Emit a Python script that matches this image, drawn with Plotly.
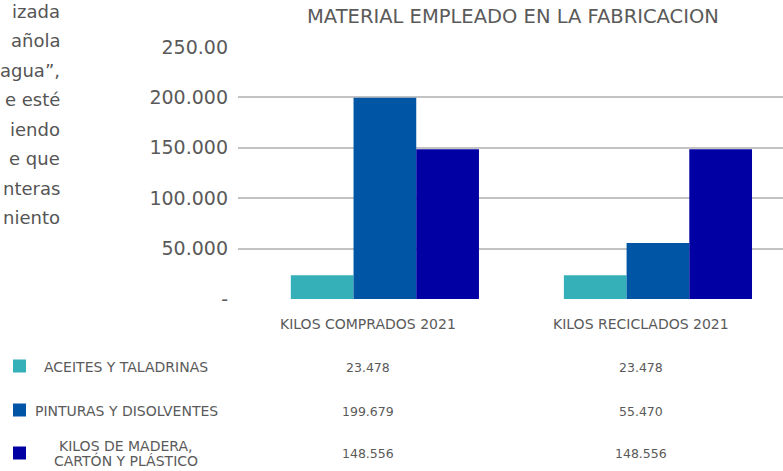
import plotly.graph_objects as go

# ---- data ----
categories = ["KILOS COMPRADOS 2021", "KILOS RECICLADOS 2021"]
series_names = ["ACEITES Y TALADRINAS", "PINTURAS Y DISOLVENTES", "KILOS DE MADERA,<br>CARTÓN Y PLÁSTICO"]
aceites = [23478, 23478]
pinturas = [199679, 55470]
madera = [148556, 148556]
value_labels = [["23.478", "23.478"], ["199.679", "55.470"], ["148.556", "148.556"]]
tick_vals = [0, 50000, 100000, 150000, 200000, 250000]
tick_text = ["-", "50.000", "100.000", "150.000", "200.000", "250.00"]
title_text = "MATERIAL EMPLEADO EN LA FABRICACION"
paragraph_lines = ["izada", "añola", "agua”,", "e esté", "iendo", "e que", "nteras", "niento"]

colors = ["#35AFB8", "#0055A5", "#0000A3"]
series_values = [aceites, pinturas, madera]

W, H = 783, 471
L, R, T, B = 238, 783, 47, 299  # plot area in pixels
PW, PH = R - L, B - T


def px(x):
    return (x - L) / PW


def py(y):
    return (B - y) / PH


FONT = "DejaVu Sans"
GRAY = "#5a5a5a"

fig = go.Figure()
for name, vals, col in zip(series_names, series_values, colors):
    fig.add_trace(go.Bar(x=categories, y=vals, name=name, marker=dict(color=col, line=dict(width=0)),
                         showlegend=False, hoverinfo="skip"))

fig.update_layout(
    width=W, height=H,
    margin=dict(l=L, r=W - R, t=T, b=H - B, pad=0),
    paper_bgcolor="white", plot_bgcolor="white",
    barmode="group", bargap=0.311, bargroupgap=0,
    font=dict(family=FONT, color=GRAY),
    xaxis=dict(range=[-0.538, 1.458], showticklabels=False, showgrid=False, zeroline=False,
               showline=False, ticks=""),
    yaxis=dict(range=[0, 250000], tickvals=tick_vals, ticktext=tick_text, showgrid=True,
               gridcolor="#c3c3c3", gridwidth=1.5, zeroline=False, showline=False,
               tickfont=dict(size=19, color=GRAY, family=FONT), ticklabelstandoff=9),
)

ann = []
# title
ann.append(dict(text=title_text, x=px(513), y=py(17), xref="paper", yref="paper", showarrow=False,
                xanchor="center", yanchor="middle", font=dict(size=19.5, color=GRAY, family=FONT)))
# paragraph fragment at left
for i, line in enumerate(paragraph_lines):
    ann.append(dict(text=line, x=px(62), y=py(11 + 29.5 * i), xref="paper", yref="paper", showarrow=False,
                    xanchor="right", yanchor="middle", font=dict(size=18, color="#555555", family=FONT)))
# data table: header row (category labels)
table_shift = -0.062
for j, cat in enumerate(categories):
    ann.append(dict(text=cat, x=j + table_shift, y=py(324), xref="x", yref="paper", showarrow=False,
                    xanchor="center", yanchor="middle", font=dict(size=14, color=GRAY, family=FONT)))
row_y = [367, 411, 453]
shapes = []
for r, (name, col) in enumerate(zip(series_names, colors)):
    parts = name.split("<br>")
    for k, part in enumerate(parts):
        yy = row_y[r] + (k - (len(parts) - 1) / 2) * 15
        ann.append(dict(text=part, x=px(126), y=py(yy), xref="paper", yref="paper", showarrow=False,
                        xanchor="center", yanchor="middle", font=dict(size=14, color=GRAY, family=FONT)))
    for j in range(len(categories)):
        ann.append(dict(text=value_labels[r][j], x=j + table_shift, y=py(row_y[r]), xref="x", yref="paper",
                        showarrow=False, xanchor="center", yanchor="middle",
                        font=dict(size=12.5, color=GRAY, family=FONT)))
    ky = row_y[r] - 1 if r < 2 else row_y[r]
    shapes.append(dict(type="rect", xref="paper", yref="paper", x0=px(13), x1=px(26),
                       y0=py(ky + 6.5), y1=py(ky - 6.5), fillcolor=col, line=dict(width=0)))

fig.update_layout(annotations=ann, shapes=shapes)
fig.write_html("out.html", config={"displayModeBar": False},
               post_script="document.body.style.margin='0px';")
